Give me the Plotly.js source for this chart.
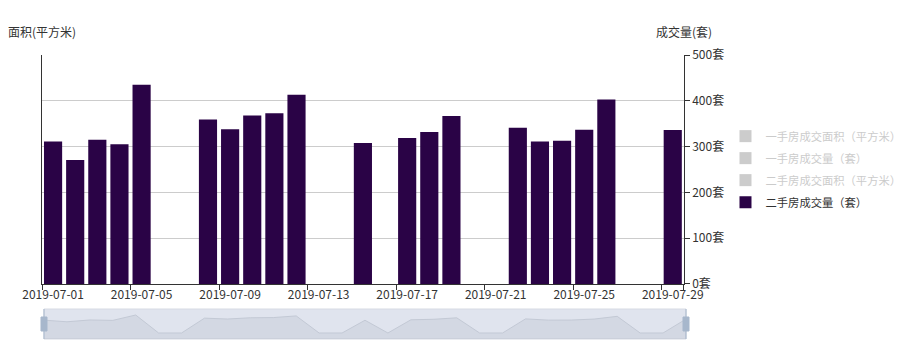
<!DOCTYPE html>
<html>
<head>
<meta charset="utf-8">
<script src="https://cdn.plot.ly/plotly-3.0.1.min.js"></script>
<style>html,body{margin:0;padding:0;background:#fff;}#chart{width:908px;height:362px;}</style>
</head>
<body>
<div id="chart"></div>
<script>
const dates = ['2019-07-01','2019-07-02','2019-07-03','2019-07-04','2019-07-05','2019-07-06','2019-07-07','2019-07-08','2019-07-09','2019-07-10','2019-07-11','2019-07-12','2019-07-13','2019-07-14','2019-07-15','2019-07-16','2019-07-17','2019-07-18','2019-07-19','2019-07-20','2019-07-21','2019-07-22','2019-07-23','2019-07-24','2019-07-25','2019-07-26','2019-07-27','2019-07-28','2019-07-29'];
const secondHandVolume = [311,271,315,305,435,null,null,359,338,368,373,413,null,null,308,null,319,332,367,null,null,341,311,313,337,403,null,null,336];
const tickLabels = ['2019-07-01','2019-07-05','2019-07-09','2019-07-13','2019-07-17','2019-07-21','2019-07-25','2019-07-29'];
const rightTicks = [0,100,200,300,400,500];
const rightTickText = ['0套','100套','200套','300套','400套','500套'];
const seriesNames = ['一手房成交面积（平方米）','一手房成交量（套）','二手房成交面积（平方米）','二手房成交量（套）'];
// hidden series: values not shown in the picture
const hiddenValues = dates.map(() => null);

const FONT = '"Noto Sans CJK SC", "Noto Sans", sans-serif';
const BAR = '#2a0346';

const traces = [];
for (let i = 0; i < 3; i++) {
  traces.push({
    type: 'bar', name: '<span style="color:#999">' + seriesNames[i] + '</span>',
    x: dates, y: hiddenValues, xaxis: 'x', yaxis: i % 2 === 0 ? 'y' : 'y2',
    visible: 'legendonly', marker: {color: '#999'}, legendgroup: 'g' + i
  });
}
traces.push({
  type: 'bar', name: seriesNames[3], x: dates, y: secondHandVolume,
  xaxis: 'x', yaxis: 'y2', marker: {color: BAR}, legendgroup: 'g3',
  hoverinfo: 'x+y'
});

// data shadow in the zoom slider (gaps shown as 0)
const shadow = secondHandVolume.map(v => v == null ? 0 : v);
const idx = shadow.map((_, i) => i);
const base = -145;
traces.push({
  type: 'scatter', mode: 'lines', x: idx.concat([idx.length - 1, 0]),
  y: shadow.concat([base, base]), xaxis: 'x3', yaxis: 'y3',
  fill: 'toself', fillcolor: '#d3d8e3', line: {color: '#c3c9d5', width: 1},
  showlegend: false, hoverinfo: 'skip'
});

const layout = {
  width: 908, height: 362,
  margin: {l: 42, r: 222, t: 55, b: 23},
  paper_bgcolor: '#fff', plot_bgcolor: 'rgba(0,0,0,0)',
  font: {family: FONT, size: 12, color: '#333'},
  bargap: 0.18,
  barmode: 'overlay',
  showlegend: true,
  legend: {
    xref: 'container', yref: 'container', x: 0.799, y: 0.664,
    xanchor: 'left', yanchor: 'top', tracegroupgap: 3,
    font: {family: FONT, size: 11.3, color: '#333'}, itemwidth: 30
  },
  xaxis: {
    domain: [0, 0.9966], anchor: 'y', type: 'category',
    range: [-0.5, 28.5], tickson: 'boundaries', tickangle: 0,
    tickmode: 'array', tickvals: tickLabels, ticktext: tickLabels,
    showline: true, linecolor: '#333', linewidth: 1,
    ticks: 'outside', ticklen: 5, tickcolor: '#333',
    showgrid: false, zeroline: false,
    tickfont: {family: FONT, size: 12, color: '#333'}
  },
  yaxis: {
    domain: [0.1937, 1], anchor: 'x', range: [0, 1],
    showline: true, linecolor: '#333', linewidth: 1,
    showticklabels: false, ticks: '', showgrid: false, zeroline: false
  },
  yaxis2: {
    overlaying: 'y', side: 'right', anchor: 'x', range: [0, 500],
    tickmode: 'array', tickvals: rightTicks, ticktext: rightTickText,
    showline: true, linecolor: '#333', linewidth: 1,
    ticks: 'outside', ticklen: 5, tickcolor: '#333',
    showgrid: true, gridcolor: '#ccc', gridwidth: 1, zeroline: false,
    tickfont: {family: FONT, size: 12, color: '#333'}
  },
  xaxis3: {
    domain: [0.0031, 1], anchor: 'y3', range: [0, 28],
    visible: false, fixedrange: true
  },
  yaxis3: {
    domain: [0, 0.1056], anchor: 'x3', range: [base, 580],
    visible: false, fixedrange: true
  },
  shapes: [
    {type: 'rect', xref: 'x3 domain', yref: 'y3 domain', x0: 0, x1: 1, y0: 0, y1: 1,
     fillcolor: '#e0e4ee', line: {color: '#d6dae3', width: 1}, layer: 'below'},
    {type: 'line', xref: 'x3 domain', yref: 'y3 domain', x0: 0, x1: 0, y0: 0, y1: 1,
     line: {color: '#a7b7cc', width: 1}},
    {type: 'line', xref: 'x3 domain', yref: 'y3 domain', x0: 1, x1: 1, y0: 0, y1: 1,
     line: {color: '#a7b7cc', width: 1}},
    {type: 'rect', xref: 'x3 domain', yref: 'y3 domain', xsizemode: 'pixel', ysizemode: 'pixel',
     xanchor: 0, yanchor: 0.5, x0: -3, x1: 3, y0: -7, y1: 7,
     fillcolor: '#a7b7cc', line: {color: '#a7b7cc', width: 1}},
    {type: 'rect', xref: 'x3 domain', yref: 'y3 domain', xsizemode: 'pixel', ysizemode: 'pixel',
     xanchor: 1, yanchor: 0.5, x0: -3, x1: 3, y0: -7, y1: 7,
     fillcolor: '#a7b7cc', line: {color: '#a7b7cc', width: 1}}
  ],
  annotations: [
    {text: '面积(平方米)', xref: 'paper', yref: 'paper', x: 0, y: 1, xanchor: 'center', yanchor: 'bottom',
     yshift: 13, showarrow: false, font: {family: FONT, size: 12, color: '#333'}},
    {text: '成交量(套)', xref: 'paper', yref: 'paper', x: 0.9966, y: 1, xanchor: 'center', yanchor: 'bottom',
     yshift: 13, showarrow: false, font: {family: FONT, size: 12, color: '#333'}}
  ]
};

Plotly.newPlot('chart', traces, layout, {displayModeBar: false});
</script>
</body>
</html>
